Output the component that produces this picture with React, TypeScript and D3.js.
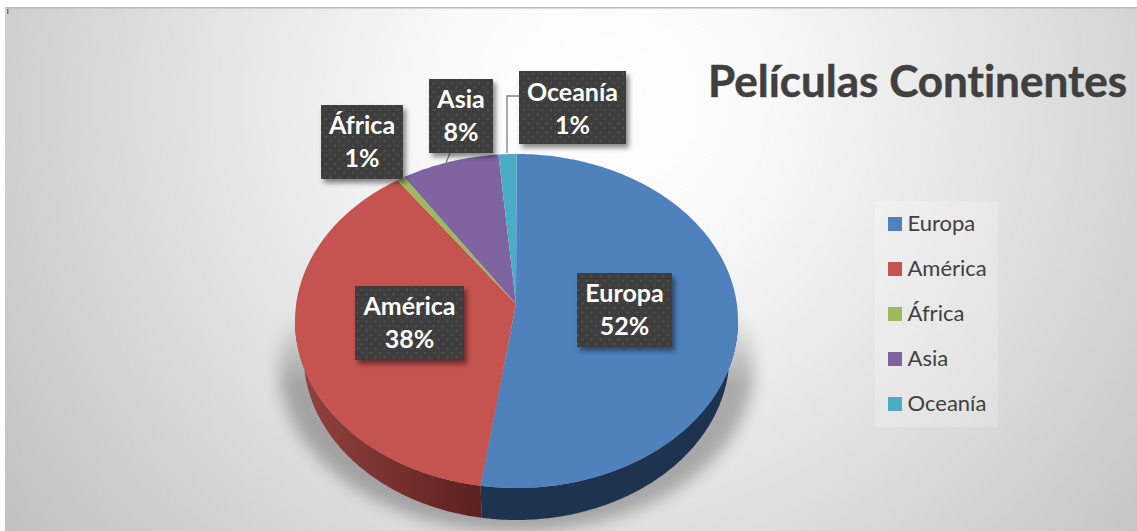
import React from "react";
import * as d3 from "d3";

const categories = ["Europa", "América", "África", "Asia", "Oceanía"];
const values = [52.6, 38.37, 0.56, 7.17, 1.3];
const percentLabels = ["52%", "38%", "1%", "8%", "1%"];
const colors = ["#4f81bd", "#c5534f", "#9bbb59", "#8064a2", "#4bacc6"];
const title = "Películas Continentes";

const W = 1137, H = 531;
const top = { cx: 516.5, cy: 321, rx: 221.5, ry: 167 };
const bottom = { cx: 516.5, cy: 355, rx: 213, ry: 165 };
const apex: [number, number] = [516, 304];

// label boxes [x0, y0, x1, y1, first baseline]
const boxes = [
  [577, 273, 672, 347, 302],
  [355, 286, 464, 360, 315],
  [321, 105, 403, 179, 134],
  [429, 79, 493, 153, 108],
  [519, 71, 626, 144, 101],
];

const pt = (e: typeof top, a: number): [number, number] => [
  e.cx + e.rx * Math.sin(a),
  e.cy - e.ry * Math.cos(a),
];
const arcs = d3.pie<number>().sort(null)(values);
const line = d3.line();
const sample = (a0: number, a1: number) => {
  const n = Math.max(2, Math.ceil((a1 - a0) * 60));
  return d3.range(n + 1).map((i) => a0 + ((a1 - a0) * i) / n);
};
const wedge = (a0: number, a1: number) =>
  line([apex, ...sample(a0, a1).map((a) => pt(top, a))])! + "Z";
const side = (a0: number, a1: number) => {
  const s = Math.max(a0, Math.PI / 2), e = Math.min(a1, (3 * Math.PI) / 2);
  if (e <= s) return null;
  const as = sample(s, e);
  return line([...as.map((a) => pt(top, a)), ...as.reverse().map((a) => pt(bottom, a))])! + "Z";
};

export default function App() {
  const font = "Lato, Carlito, sans-serif";
  return (
    <svg width={W} height={H} style={{ position: "absolute", left: 0, top: 0, fontVariantLigatures: "none" }} fontFamily={font}>
      <defs>
        <radialGradient id="bg" gradientUnits="userSpaceOnUse" cx={600} cy={100} r={740}>
          <stop offset="0" stopColor="#ffffff" />
          <stop offset="0.22" stopColor="#f9f9f9" />
          <stop offset="0.55" stopColor="#e2e2e2" />
          <stop offset="1" stopColor="#c0c0c0" />
        </radialGradient>
        <linearGradient id="redSide" gradientUnits="userSpaceOnUse" x1={300} x2={482} y1={0} y2={0}>
          <stop offset="0" stopColor="#94423f" />
          <stop offset="1" stopColor="#5a211f" />
        </linearGradient>
        <linearGradient id="fade" gradientUnits="userSpaceOnUse" x1={0} x2={0} y1={310} y2={385}>
          <stop offset="0" stopColor="#fff" stopOpacity={0} />
          <stop offset="1" stopColor="#fff" stopOpacity={1} />
        </linearGradient>
        <mask id="shadowMask" maskUnits="userSpaceOnUse" x={0} y={0} width={W} height={H}>
          <rect x={0} y={0} width={W} height={H} fill="url(#fade)" />
        </mask>
        <filter id="blur" x="-20%" y="-20%" width="140%" height="140%">
          <feGaussianBlur stdDeviation="8" />
        </filter>
        <filter id="boxShadow" x="-20%" y="-20%" width="150%" height="150%">
          <feDropShadow dx="3" dy="4" stdDeviation="2.5" floodColor="#000" floodOpacity="0.45" />
        </filter>
        <pattern id="dots" width="9" height="9" patternUnits="userSpaceOnUse">
          <rect width="9" height="9" fill="#3e3e3e" />
          <circle cx="2" cy="2" r="1.1" fill="#515151" />
          <circle cx="6.5" cy="6.5" r="1.1" fill="#515151" />
        </pattern>
      </defs>
      <rect x={5} y={7} width={W - 5} height={H - 7} fill="url(#bg)" />
      <rect x={5} y={7} width={W - 5} height={1.5} fill="#b9b9b9" />
      <rect x={7} y={9} width={1.5} height={5} fill="#777" />

      <g mask="url(#shadowMask)">
        <ellipse cx={516.5} cy={368} rx={237} ry={164} fill="#000" opacity={0.27} filter="url(#blur)" />
      </g>

      {arcs.map((d, i) => {
        const p = side(d.startAngle, d.endAngle);
        return p ? <path key={i} d={p} fill={i === 1 ? "url(#redSide)" : "#1e3350"} /> : null;
      })}
      {arcs.map((d, i) => (
        <path key={i} d={wedge(d.startAngle, d.endAngle)} fill={colors[i]} />
      ))}

      <path d={line([[507, 153], [507, 96], [519, 96]])!} fill="none" stroke="#7f7f7f" strokeWidth={1.3} />
      <path d={line([[450, 153], [446, 163]])!} fill="none" stroke="#7f7f7f" strokeWidth={1.3} />

      {categories.map((c, i) => {
        const [x0, y0, x1, y1, b] = boxes[i];
        const mx = (x0 + x1) / 2;
        return (
          <g key={c}>
            <rect x={x0} y={y0} width={x1 - x0} height={y1 - y0} fill="url(#dots)" filter="url(#boxShadow)" />
            <text x={mx} y={b} textAnchor="middle" fill="#fff" fontWeight={700} fontSize={25}>{c}</text>
            <text x={mx} y={b + 33} textAnchor="middle" fill="#fff" fontWeight={700} fontSize={25}>{percentLabels[i]}</text>
          </g>
        );
      })}

      <text x={708} y={97} fill="#404040" stroke="#404040" strokeWidth={0.5} fontWeight={700} fontSize={44}>{title}</text>

      <rect x={875} y={201} width={123} height={226} fill="#fff" opacity={0.22} />
      {categories.map((c, i) => (
        <g key={c}>
          <rect x={888} y={217 + 45 * i} width={14} height={14} fill={colors[i]} />
          <text x={907.5} y={231 + 45 * i} fill="#404040" fontSize={22}>{c}</text>
        </g>
      ))}
    </svg>
  );
}
